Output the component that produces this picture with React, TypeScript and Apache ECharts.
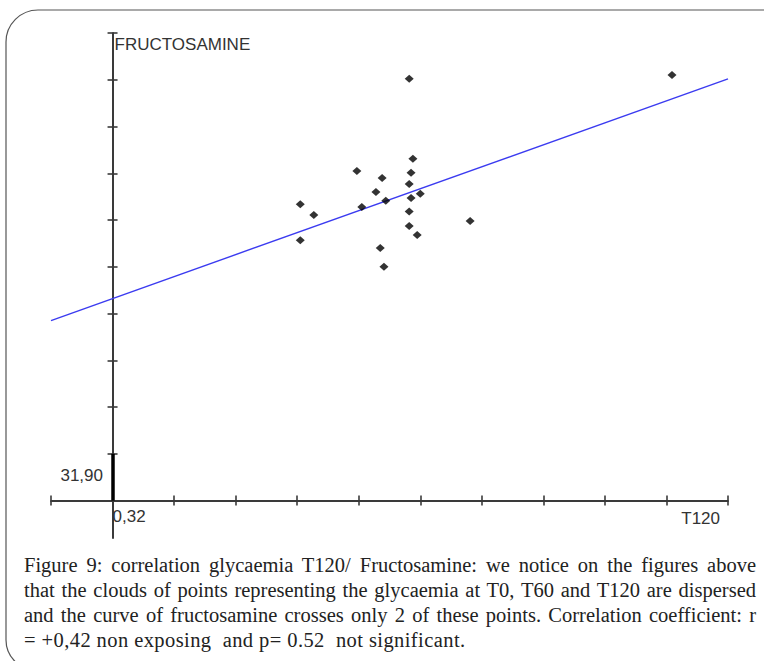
import React, { useEffect, useRef } from "react";
import * as echarts from "echarts";

// ---- data ----
const xTickValues = [-1, 0, 1, 2, 3, 4, 5, 6, 7, 8, 9, 10];
const yTickValues = [0, 1, 2, 3, 4, 5, 6, 7, 8, 9, 10];
const xAxisTitle = "T120";
const yAxisTitle = "FRUCTOSAMINE";
const xOriginLabel = "0,32";
const yOriginLabel = "31,90";

const glycaemiaT120 = [4.82, 4.88, 3.97, 4.38, 4.85, 4.82, 4.28, 5.0, 4.85, 4.44, 3.05, 4.05, 3.27, 4.82, 5.81, 4.82, 4.95, 3.05, 4.35, 4.41, 9.09];
const fructosamine = [9.02, 7.31, 7.05, 6.9, 7.01, 6.77, 6.6, 6.56, 6.47, 6.41, 6.34, 6.28, 6.11, 6.18, 5.98, 5.87, 5.68, 5.57, 5.4, 5.0, 9.1];

const fitX = [-1, 10];
const fitY = [3.85, 9.02];

const originSegment = [0, 1];

const captionLines = [
  "Figure 9: correlation glycaemia T120/ Fructosamine: we notice on the figures above",
  "that the clouds of points representing the glycaemia at T0, T60 and T120 are dispersed",
  "and the curve of fructosamine crosses only 2 of these points. Correlation coefficient: r",
  "= +0,42 non exposing  and p= 0.52  not significant.",
];

const axisColor = "#3a3a3a";
const labelFont = { color: "#333", fontSize: 17, fontFamily: "Liberation Sans, Arial, sans-serif" };

export default function App() {
  const ref = useRef<HTMLDivElement>(null);

  useEffect(() => {
    document.body.style.margin = "0";
    if (!ref.current) return;
    const chart = echarts.init(ref.current, undefined, { renderer: "svg" });
    const points = glycaemiaT120.map((x, i) => [x, fructosamine[i]]);
    const fit = fitX.map((x, i) => [x, fitY[i]]);

    const tickStyle = { color: axisColor, width: 1.6 };

    chart.setOption({
      animation: false,
      backgroundColor: "#ffffff",
      grid: { left: 51, right: 36, top: 33, bottom: 123, outerBoundsMode: "none", containLabel: false },
      xAxis: [
        {
          type: "value",
          min: xTickValues[0],
          max: xTickValues[xTickValues.length - 1],
          interval: 1,
          position: "bottom",
          axisLine: { show: true, onZero: true, onZeroAxisIndex: 0, lineStyle: { color: axisColor, width: 2 } },
          axisTick: { show: true, length: 5, customValues: xTickValues, lineStyle: tickStyle },
          axisLabel: {
            show: true,
            customValues: [0],
            formatter: (v: number) => (v === 0 ? xOriginLabel : ""),
            align: "left",
            margin: -30,
            ...labelFont,
          },
          splitLine: { show: false },
          name: xAxisTitle,
          nameLocation: "end",
          nameGap: -8,
          nameTextStyle: { ...labelFont, align: "right", verticalAlign: "top", padding: [9, 0, 0, 0] },
        },
        {
          type: "value",
          min: xTickValues[0],
          max: xTickValues[xTickValues.length - 1],
          interval: 1,
          position: "bottom",
          axisLine: { show: false, onZero: true, onZeroAxisIndex: 0 },
          axisTick: { show: true, inside: true, length: 5, customValues: xTickValues, lineStyle: tickStyle },
          axisLabel: { show: false },
          splitLine: { show: false },
        },
      ],
      yAxis: [
        {
          type: "value",
          min: -0.8,
          max: yTickValues[yTickValues.length - 1],
          position: "left",
          axisLine: { show: true, onZero: true, onZeroAxisIndex: 0, lineStyle: { color: axisColor, width: 2 } },
          axisTick: { show: true, length: 5, customValues: yTickValues, lineStyle: tickStyle },
          axisLabel: {
            show: true,
            customValues: [0],
            formatter: (v: number) => (v === 0 ? yOriginLabel : ""),
            verticalAlign: "bottom",
            padding: [0, 0, 17, 0],
            margin: -52,
            ...labelFont,
          },
          splitLine: { show: false },
          name: yAxisTitle,
          nameLocation: "end",
          nameGap: -3,
          nameTextStyle: { ...labelFont, align: "left", verticalAlign: "top", padding: [0, 0, 0, 2] },
        },
        {
          type: "value",
          min: -0.8,
          max: yTickValues[yTickValues.length - 1],
          position: "left",
          axisLine: { show: false, onZero: true, onZeroAxisIndex: 0 },
          axisTick: { show: true, inside: true, length: 5, customValues: yTickValues, lineStyle: tickStyle },
          axisLabel: { show: false },
          splitLine: { show: false },
        },
      ],
      graphic: [
        {
          type: "rect",
          z: -10,
          silent: true,
          shape: { x: 6, y: 10, width: 800, height: 660, r: [32, 22, 22, 30] },
          style: { fill: "none", stroke: "#555", lineWidth: 1.2 },
        },
      ],
      series: [
        {
          type: "line",
          data: fit,
          xAxisIndex: 0,
          yAxisIndex: 0,
          showSymbol: false,
          symbol: "none",
          lineStyle: { color: "#3b3bf0", width: 1.4 },
          silent: true,
          z: 2,
        },
        {
          type: "scatter",
          data: points,
          xAxisIndex: 0,
          yAxisIndex: 0,
          symbol: "diamond",
          symbolSize: [9, 8],
          itemStyle: { color: "#000" },
          z: 3,
          markLine: {
            silent: true,
            symbol: "none",
            label: { show: false },
            lineStyle: { color: "#000", width: 3.5, type: "solid" },
            data: [[{ coord: [0, originSegment[0]] }, { coord: [0, originSegment[1]] }]],
          },
        },
      ],
    });
    return () => chart.dispose();
  }, []);

  return (
    <div style={{ position: "relative", width: 764, height: 661, overflow: "hidden", background: "#fff" }}>
      <div ref={ref} style={{ position: "absolute", left: 0, top: 0, width: 764, height: 661 }} />
      <div
        style={{
          position: "absolute",
          left: 24,
          top: 553,
          width: 732,
          fontFamily: "'Liberation Serif', 'Times New Roman', serif",
          fontSize: 20.5,
          lineHeight: "25px",
          color: "#222",
        }}
      >
        {captionLines.map((line, i) => {
          const last = i === captionLines.length - 1;
          return (
            <div
              key={i}
              style={{
                whiteSpace: "pre",
                textAlign: last ? "left" : "justify",
                textAlignLast: last ? "left" : "justify",
                letterSpacing: last ? "0.42px" : undefined,
              }}
            >
              {line}
            </div>
          );
        })}
      </div>
    </div>
  );
}
